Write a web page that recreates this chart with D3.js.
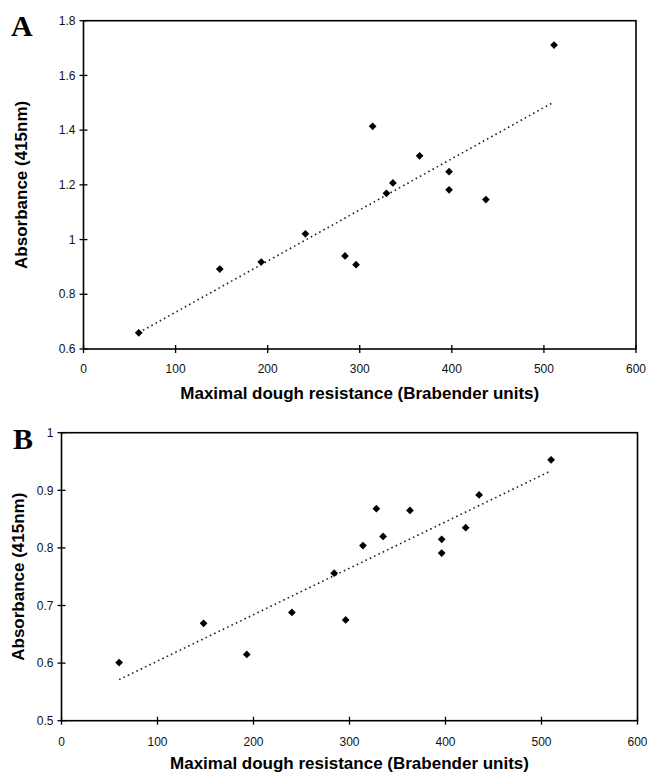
<!DOCTYPE html>
<html>
<head>
<meta charset="utf-8">
<script src="https://cdn.jsdelivr.net/npm/d3@7"></script>
<style>
  html, body { margin: 0; padding: 0; background: #fff; }
  svg { display: block; }
</style>
</head>
<body>
<svg id="chart" width="647" height="775"></svg>
<script>
// ---- Data ----
const xTicks = [0, 100, 200, 300, 400, 500, 600];
const yTicksA = [0.6, 0.8, 1.0, 1.2, 1.4, 1.6, 1.8];
const yTicksB = [0.5, 0.6, 0.7, 0.8, 0.9, 1.0];

const resistanceA = [60, 148, 193, 241, 284, 296, 314, 329, 336, 365, 397, 397, 437, 511];
const absorbanceA = [0.659, 0.892, 0.918, 1.021, 0.940, 0.908, 1.414, 1.169, 1.207, 1.306, 1.248, 1.182, 1.146, 1.711];

const resistanceB = [60, 148, 193, 240, 284, 296, 314, 328, 335, 363, 396, 396, 421, 435, 510];
const absorbanceB = [0.601, 0.669, 0.615, 0.688, 0.756, 0.675, 0.804, 0.868, 0.820, 0.865, 0.815, 0.791, 0.835, 0.892, 0.953];

const xTitle = "Maximal dough resistance (Brabender units)";
const yTitle = "Absorbance (415nm)";

const svg = d3.select("#chart");

function fmt(v) {
  return String(+v.toFixed(2));
}

function linReg(xs, ys) {
  const mx = d3.mean(xs), my = d3.mean(ys);
  let sxy = 0, sxx = 0;
  xs.forEach((x, i) => { sxy += (x - mx) * (ys[i] - my); sxx += (x - mx) * (x - mx); });
  const b = sxy / sxx;
  return { b, a: my - b * mx };
}

function panel(opt) {
  const { letter, letterX, letterY, left, right, top, bottom, yDomain, yTicks, xs, ys,
          tickLabelY, xTitleY, yTitleX } = opt;
  const x = d3.scaleLinear().domain([0, 600]).range([left, right]);
  const y = d3.scaleLinear().domain(yDomain).range([bottom, top]);
  const g = svg.append("g");

  g.append("rect")
    .attr("x", left).attr("y", top)
    .attr("width", right - left).attr("height", bottom - top)
    .attr("fill", "none").attr("stroke", "#000").attr("stroke-width", 1.6);

  g.selectAll(".yt").data(yTicks).enter().append("line")
    .attr("x1", left - 4).attr("x2", left + 4)
    .attr("y1", d => y(d)).attr("y2", d => y(d))
    .attr("stroke", "#000").attr("stroke-width", 1.3);
  g.selectAll(".yl").data(yTicks).enter().append("text")
    .attr("x", left - 8).attr("y", d => y(d)).attr("dy", "0.35em")
    .attr("text-anchor", "end")
    .attr("font-family", "Liberation Sans, Arial, sans-serif")
    .attr("font-size", 12).attr("fill", "#111")
    .text(fmt);

  g.selectAll(".xt").data(xTicks).enter().append("line")
    .attr("x1", d => x(d)).attr("x2", d => x(d))
    .attr("y1", bottom - 4).attr("y2", bottom + 4)
    .attr("stroke", "#000").attr("stroke-width", 1.3);
  g.selectAll(".xl").data(xTicks).enter().append("text")
    .attr("x", d => x(d)).attr("y", tickLabelY)
    .attr("text-anchor", "middle")
    .attr("font-family", "Liberation Sans, Arial, sans-serif")
    .attr("font-size", 12).attr("fill", "#111")
    .text(d => d);

  const r = linReg(xs, ys);
  const x0 = d3.min(xs), x1 = d3.max(xs);
  g.append("line")
    .attr("x1", x(x0)).attr("y1", y(r.a + r.b * x0))
    .attr("x2", x(x1)).attr("y2", y(r.a + r.b * x1))
    .attr("stroke", "#222").attr("stroke-width", 1.6)
    .attr("stroke-dasharray", "1.6,3.2");

  const sym = d3.symbol().type(d3.symbolSquare).size(30);
  g.selectAll(".pt").data(xs.map((v, i) => [v, ys[i]])).enter().append("path")
    .attr("d", sym)
    .attr("transform", d => `translate(${x(d[0])},${y(d[1])}) rotate(45)`)
    .attr("fill", "#000");

  g.append("text")
    .attr("x", (left + right) / 2).attr("y", xTitleY)
    .attr("text-anchor", "middle")
    .attr("font-family", "Liberation Sans, Arial, sans-serif")
    .attr("font-weight", "bold").attr("font-size", 17).attr("fill", "#000")
    .text(xTitle);
  g.append("text")
    .attr("transform", `translate(${yTitleX},${(top + bottom) / 2}) rotate(-90)`)
    .attr("text-anchor", "middle")
    .attr("font-family", "Liberation Sans, Arial, sans-serif")
    .attr("font-weight", "bold").attr("font-size", 17).attr("fill", "#000")
    .text(yTitle);

  g.append("text")
    .attr("x", letterX).attr("y", letterY)
    .attr("font-family", "Liberation Serif, Times New Roman, serif")
    .attr("font-weight", "bold").attr("font-size", 30).attr("fill", "#000")
    .text(letter);
}

panel({
  letter: "A", letterX: 11, letterY: 36,
  left: 83.5, right: 636, top: 20.7, bottom: 349,
  yDomain: [0.6, 1.8], yTicks: yTicksA, xs: resistanceA, ys: absorbanceA,
  tickLabelY: 373, xTitleY: 399, yTitleX: 27
});

panel({
  letter: "B", letterX: 13, letterY: 449,
  left: 61.5, right: 637.5, top: 432.7, bottom: 720.7,
  yDomain: [0.5, 1.0], yTicks: yTicksB, xs: resistanceB, ys: absorbanceB,
  tickLabelY: 746, xTitleY: 769, yTitleX: 24
});
</script>
</body>
</html>
